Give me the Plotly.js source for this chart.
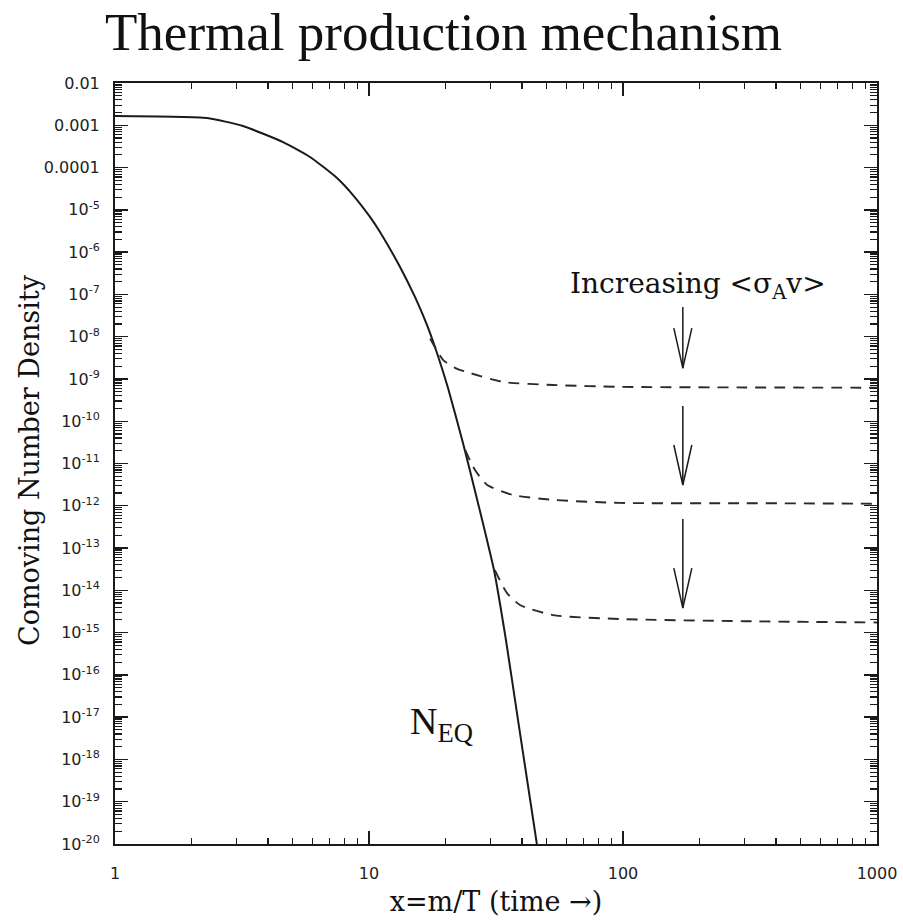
<!DOCTYPE html>
<html>
<head>
<meta charset="utf-8">
<script src="https://cdn.plot.ly/plotly-3.0.1.min.js"></script>
<style>
  html, body { margin: 0; padding: 0; background: #fff; }
  #chart { width: 903px; height: 922px; }
</style>
</head>
<body>
<div id="chart"></div>
<script>
// Equilibrium comoving number density N_EQ versus x = m/T
const eqX = [1, 2.3, 3.19, 4.59, 5.86, 7.48, 8.65, 10.09, 11.05, 13.25, 15.17, 16.91, 18.52, 20.47, 23.44, 27.1, 31.05, 34.6, 38.6, 45.8];
const eqY = [1.66e-3, 1.49e-3, 9.6e-4, 4.0e-4, 1.78e-4, 5.66e-5, 2.24e-5, 6.8e-6, 2.99e-6, 4.45e-7, 8.7e-8, 1.89e-8, 4.1e-9, 6.1e-10, 3.05e-11, 9.4e-13, 3.03e-14, 6.7e-16, 8.6e-18, 1e-20];

// Freeze-out curves, one per annihilation cross section
const fo1X = [17.4, 19.6, 22.0, 25.0, 33.7, 53, 97, 300, 1000];
const fo1Y = [9.0e-9, 2.8e-9, 1.78e-9, 1.38e-9, 8.5e-10, 7.2e-10, 6.5e-10, 6.3e-10, 6.2e-10];
const fo2X = [23.9, 26.1, 29.2, 36.9, 53, 97, 300, 1000];
const fo2Y = [2.1e-11, 7.1e-12, 3.1e-12, 1.8e-12, 1.38e-12, 1.17e-12, 1.15e-12, 1.12e-12];
const fo3X = [31.3, 34.9, 39.3, 53, 97, 300, 1000];
const fo3Y = [3.0e-14, 8.7e-15, 4.5e-15, 2.6e-15, 2.1e-15, 1.86e-15, 1.74e-15];

// Arrows showing the trend with increasing <sigma_A v>
const arrowX = 172;
const arrowTop = [5.0e-8, 2.3e-10, 4.9e-13];
const arrowTip = [1.8e-9, 3.1e-12, 3.8e-15];

// Axis ticks
const xTickVals = [1, 10, 100, 1000];
const xTickText = ['1', '10', '100', '1000'];
const yTickVals = [1e-2, 1e-3, 1e-4, 1e-5, 1e-6, 1e-7, 1e-8, 1e-9, 1e-10, 1e-11, 1e-12, 1e-13, 1e-14, 1e-15, 1e-16, 1e-17, 1e-18, 1e-19, 1e-20];
const yTickText = ['0.01', '0.001', '0.0001',
  '10<sup>-5</sup>', '10<sup>-6</sup>', '10<sup>-7</sup>', '10<sup>-8</sup>', '10<sup>-9</sup>',
  '10<sup>-10</sup>', '10<sup>-11</sup>', '10<sup>-12</sup>', '10<sup>-13</sup>', '10<sup>-14</sup>',
  '10<sup>-15</sup>', '10<sup>-16</sup>', '10<sup>-17</sup>', '10<sup>-18</sup>', '10<sup>-19</sup>', '10<sup>-20</sup>'];

// Figure geometry
const W = 903, H = 922;
const M = { l: 115, r: 26, t: 83, b: 78 };
const xRange = [0, 3], yRange = [-20, -2];
const pxPerDecX = (W - M.l - M.r) / (xRange[1] - xRange[0]);
const pxPerDecY = (H - M.t - M.b) / (yRange[1] - yRange[0]);

// 2..9 x 10^n minor ticks for every decade between two exponents
function decadeMinors(lo, hi) {
  const v = [];
  for (let e = lo; e < hi; e++) {
    for (let k = 2; k <= 9; k++) v.push(k * Math.pow(10, e));
  }
  return v;
}

const ink = '#1a1a1a';
const serif = 'DejaVu Serif, serif';
const dashed = { color: '#2a2a2a', width: 1.9, dash: '11px,8px', shape: 'spline', smoothing: 0.6 };

const traces = [
  { x: eqX, y: eqY, mode: 'lines', line: { color: ink, width: 2, shape: 'spline', smoothing: 0.5 }, hoverinfo: 'skip' },
  { x: fo1X, y: fo1Y, mode: 'lines', line: dashed, hoverinfo: 'skip' },
  { x: fo2X, y: fo2Y, mode: 'lines', line: dashed, hoverinfo: 'skip' },
  { x: fo3X, y: fo3Y, mode: 'lines', line: dashed, hoverinfo: 'skip' }
];

// Arrows: a vertical shaft and an open "V" head, 18 px wide and 40 px long
const headHalfW = Math.pow(10, 9 / pxPerDecX);
const headLen = Math.pow(10, 40 / pxPerDecY);
arrowTop.forEach((top, i) => {
  const tip = arrowTip[i];
  traces.push({
    x: [arrowX, arrowX], y: [top, tip], mode: 'lines',
    line: { color: ink, width: 1.5 }, hoverinfo: 'skip'
  });
  traces.push({
    x: [arrowX / headHalfW, arrowX, arrowX * headHalfW],
    y: [tip * headLen, tip, tip * headLen], mode: 'lines',
    line: { color: ink, width: 1.5 }, hoverinfo: 'skip'
  });
});

const axisCommon = {
  type: 'log',
  tickmode: 'array',
  ticks: 'inside',
  ticklen: 13,
  tickwidth: 1.4,
  tickcolor: ink,
  showline: true,
  linewidth: 2,
  linecolor: ink,
  mirror: 'allticks',
  showgrid: false,
  zeroline: false,
  tickfont: { family: 'DejaVu Sans, sans-serif', size: 16, color: '#222' }
};

const layout = {
  width: W,
  height: H,
  margin: M,
  paper_bgcolor: '#fff',
  plot_bgcolor: '#fff',
  showlegend: false,
  title: {
    text: 'Thermal production mechanism',
    font: { family: 'Liberation Serif, serif', size: 53, color: '#111' },
    xref: 'container', yref: 'container',
    x: 105 / W, xanchor: 'left',
    y: 1 - 31 / H, yanchor: 'middle'
  },
  xaxis: Object.assign({}, axisCommon, {
    range: xRange,
    tickvals: xTickVals,
    ticktext: xTickText,
    ticklabelstandoff: 14,
    title: {
      text: 'x=m/T (time \u2192)',
      font: { family: serif, size: 27, color: '#111' },
      standoff: 10
    },
    minor: {
      tickmode: 'array', tickvals: decadeMinors(0, 3),
      ticks: 'inside', ticklen: 6, tickwidth: 1.2, tickcolor: ink, showgrid: false
    }
  }),
  yaxis: Object.assign({}, axisCommon, {
    range: yRange,
    tickvals: yTickVals,
    ticktext: yTickText,
    ticklabelstandoff: 10,
    minor: {
      tickmode: 'array', tickvals: decadeMinors(-20, -2),
      ticks: 'inside', ticklen: 7, tickwidth: 1.2, tickcolor: ink, showgrid: false
    }
  }),
  annotations: [
    {
      text: 'Comoving Number Density',
      xref: 'paper', yref: 'paper',
      x: (30 - M.l) / (W - M.l - M.r), y: 0.5046,
      xanchor: 'center', yanchor: 'middle',
      textangle: -90, showarrow: false,
      font: { family: serif, size: 27, color: '#111' }
    },
    {
      text: 'Increasing &lt;\u03c3<sub>A</sub>v&gt;',
      xref: 'x', yref: 'y',
      x: Math.log10(197), y: -6.78,
      xanchor: 'center', yanchor: 'middle',
      showarrow: false,
      font: { family: serif, size: 28, color: '#111' }
    },
    {
      text: 'N<sub>EQ</sub>',
      xref: 'x', yref: 'y',
      x: Math.log10(14.2), y: -17.15,
      xanchor: 'left', yanchor: 'middle',
      showarrow: false,
      font: { family: 'Liberation Serif, serif', size: 38, color: '#111' }
    }
  ]
};

Plotly.newPlot('chart', traces, layout, { staticPlot: true, displayModeBar: false });
</script>
</body>
</html>
